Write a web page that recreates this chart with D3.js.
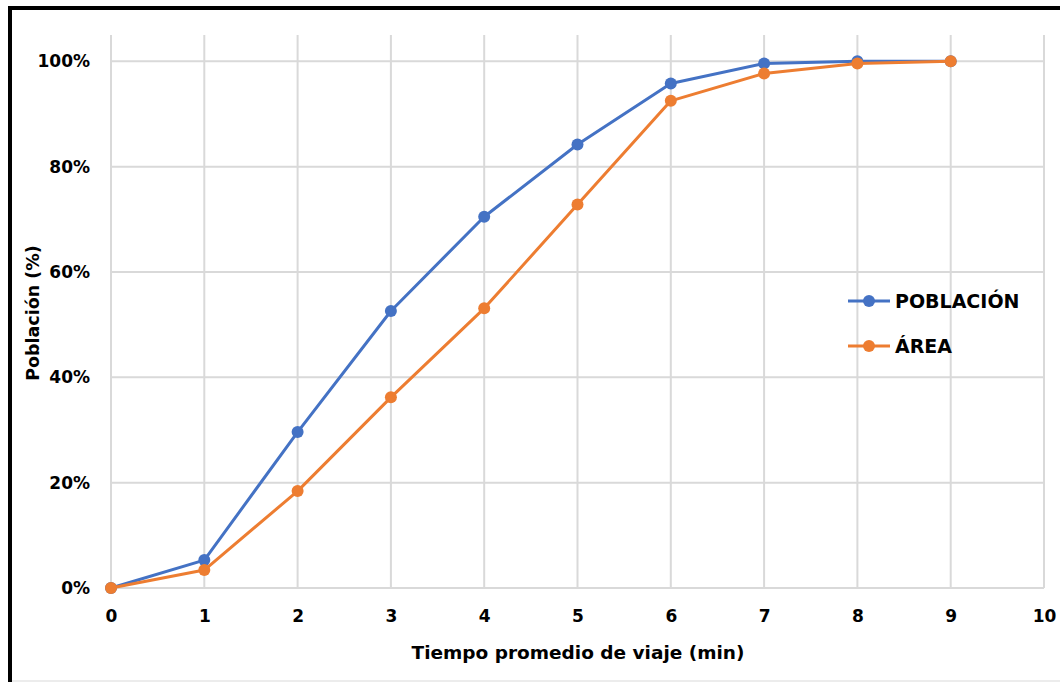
<!doctype html>
<html>
<head>
<script src="https://cdnjs.cloudflare.com/ajax/libs/d3/7.8.5/d3.min.js"></script>
<style>
body { margin: 0; background: #fff; }
text { font-family: "DejaVu Sans", sans-serif; font-weight: bold; fill: #000; }
</style>
</head>
<body>
<svg id="chart" width="1060" height="682"></svg>
<script>
var tiempo = [0, 1, 2, 3, 4, 5, 6, 7, 8, 9];
var poblacion = [0, 0.053, 0.296, 0.526, 0.705, 0.842, 0.958, 0.996, 1.0, 1.0];
var area = [0, 0.034, 0.184, 0.362, 0.531, 0.728, 0.925, 0.977, 0.996, 1.0];
var xTicks = [0, 1, 2, 3, 4, 5, 6, 7, 8, 9, 10];
var yTicks = [0, 0.2, 0.4, 0.6, 0.8, 1.0];
var seriesNames = ["POBLACIÓN", "ÁREA"];
var colors = ["#4472C4", "#ED7D31"];
var font = "\"DejaVu Sans\", sans-serif";

var svg = d3.select("#chart");

// outer frame
svg.append("line").attr("x1", 10).attr("x2", 1060).attr("y1", 8).attr("y2", 8)
  .attr("stroke", "#000").attr("stroke-width", 4);
svg.append("line").attr("x1", 10).attr("x2", 10).attr("y1", 6).attr("y2", 682)
  .attr("stroke", "#000").attr("stroke-width", 4);
svg.append("line").attr("x1", 12).attr("x2", 1060).attr("y1", 681).attr("y2", 681)
  .attr("stroke", "#d9d9d9").attr("stroke-width", 1);

var x = d3.scaleLinear().domain([0, 10]).range([111, 1044]);
var y = d3.scaleLinear().domain([0, 1.05]).range([588, 35]);

var grid = svg.append("g");
grid.selectAll("line.v").data(xTicks).enter().append("line")
  .attr("x1", d => x(d)).attr("x2", d => x(d))
  .attr("y1", y(1.05)).attr("y2", y(0))
  .attr("stroke", "#d9d9d9").attr("stroke-width", 2);
grid.selectAll("line.h").data(yTicks).enter().append("line")
  .attr("x1", x(0)).attr("x2", x(10))
  .attr("y1", d => y(d)).attr("y2", d => y(d))
  .attr("stroke", "#d9d9d9").attr("stroke-width", 2);

// axes (labels only)
var xAxis = svg.append("g").attr("transform", "translate(0," + y(0) + ")")
  .call(d3.axisBottom(x).tickValues(xTicks).tickSize(0).tickPadding(22));
var yAxis = svg.append("g").attr("transform", "translate(" + x(0) + ",0)")
  .call(d3.axisLeft(y).tickValues(yTicks).tickSize(0).tickPadding(21).tickFormat(d3.format(".0%")));
[xAxis, yAxis].forEach(function (a) {
  a.select(".domain").remove();
  a.selectAll("text").style("font-size", "17px").attr("fill", "#000")
    .style("font-family", font).style("font-weight", "bold");
});

// axis titles
svg.append("text").attr("x", 578).attr("y", 659).attr("text-anchor", "middle")
  .style("font-size", "18.5px").text("Tiempo promedio de viaje (min)");
svg.append("text").attr("transform", "translate(39,313) rotate(-90)").attr("text-anchor", "middle")
  .style("font-size", "17.5px").text("Población (%)");

// series
var allSeries = [poblacion, area];
var line = d3.line().x((d, i) => x(tiempo[i])).y(d => y(d));
allSeries.forEach(function (vals, k) {
  svg.append("path").datum(vals).attr("d", line)
    .attr("fill", "none").attr("stroke", colors[k]).attr("stroke-width", 3)
    .attr("stroke-linejoin", "round");
  svg.selectAll("circle.s" + k).data(vals).enter().append("circle")
    .attr("cx", (d, i) => x(tiempo[i])).attr("cy", d => y(d)).attr("r", 6)
    .attr("fill", colors[k]);
});

// legend
var legend = svg.append("g");
seriesNames.forEach(function (name, k) {
  var ly = 301 + k * 45;
  legend.append("line").attr("x1", 848).attr("x2", 890).attr("y1", ly).attr("y2", ly)
    .attr("stroke", colors[k]).attr("stroke-width", 3);
  legend.append("circle").attr("cx", 869).attr("cy", ly).attr("r", 6).attr("fill", colors[k]);
  legend.append("text").attr("x", 895).attr("y", ly + 7).style("font-size", "19px").text(name);
});
</script>
</body>
</html>
